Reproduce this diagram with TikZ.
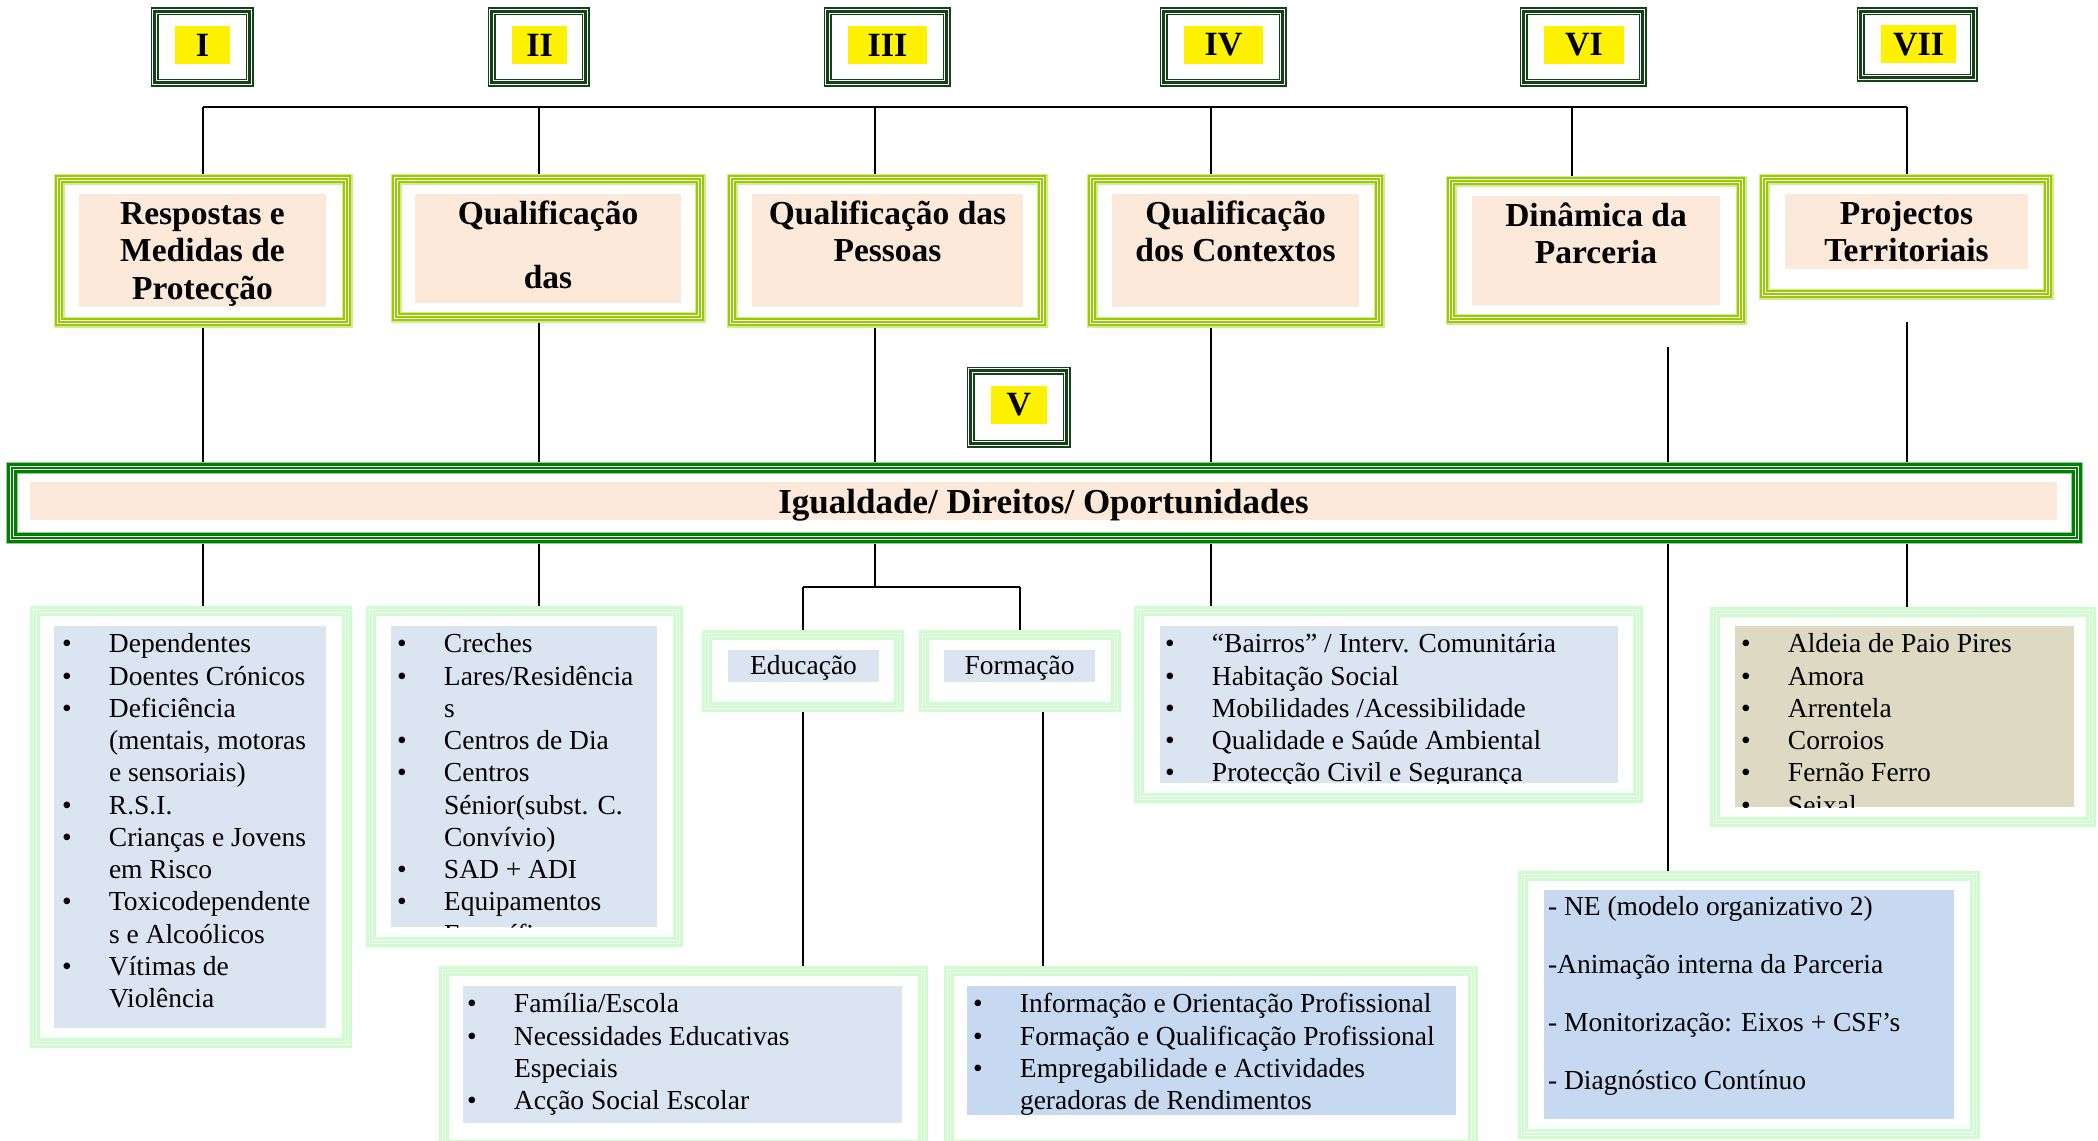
\documentclass[tikz,border=0pt]{standalone}
\usepackage{fontspec}
\setmainfont{Liberation Serif}
\usetikzlibrary{positioning}

\definecolor{romangreen}{RGB}{18,66,22}
\definecolor{catgreen}{RGB}{153,204,0}
\definecolor{catlight}{RGB}{210,236,150}
\definecolor{bargreen}{RGB}{0,128,0}
\definecolor{barlight}{RGB}{150,205,150}
\definecolor{listgreen}{RGB}{204,255,204}
\definecolor{peach}{RGB}{253,233,217}
\definecolor{paleblue}{RGB}{219,229,241}
\definecolor{midblue}{RGB}{198,217,241}
\definecolor{sand}{RGB}{221,217,195}

\newcommand{\headfont}{\fontsize{33.5}{37.5}\selectfont\bfseries}
\newcommand{\listfont}{\fontsize{27.5}{32.25}\selectfont}
\newcommand{\bul}[1]{\makebox[47pt][l]{\textbullet}#1}
\newcommand{\cont}[1]{\hspace*{47pt}#1}

\begin{document}
\begin{tikzpicture}[x=1pt, y=-1pt,
    romanbox/.style={rectangle, draw=white, line width=1pt, double=romangreen, double distance=3pt,
                     preaction={draw=romangreen, line width=8pt}, inner sep=0pt, outer sep=4pt},
    romanlabel/.style={rectangle, fill=yellow, inner sep=0pt, minimum height=38pt,
                       font=\fontsize{34}{38}\selectfont\bfseries},
    catbox/.style={rectangle, draw=white, line width=1pt, double=catgreen, double distance=2pt,
                   preaction={draw=catlight, line width=11pt}, preaction={draw=catgreen, line width=8pt},
                   inner sep=0pt, outer sep=5.5pt},
    catfill/.style={rectangle, fill=peach, inner sep=0pt},
    barbox/.style={rectangle, draw=white, line width=1.2pt, double=bargreen, double distance=2.5pt,
                   preaction={draw=barlight, line width=12pt}, preaction={draw=bargreen, line width=10pt},
                   inner sep=0pt, outer sep=6pt},
    listbox/.style={rectangle, draw=white, line width=1pt, double=listgreen, double distance=2.5pt,
                    preaction={draw=listgreen, line width=10pt}, inner sep=0pt, outer sep=5pt},
    listfill/.style={rectangle, fill=paleblue, inner sep=0pt},
    headtext/.style={align=center, inner sep=0pt, font=\headfont},
    listtext/.style={align=left, inner sep=0pt, font=\listfont},
    link/.style={draw=black, line width=1.8pt},
    bus/.style={draw=black, line width=2.2pt},
  ]
  \fill[white] (0,0) rectangle (2098,1140);
  \useasboundingbox (0,0) rectangle (2098,1140);

  % Roman numerals
  \node[romanbox, minimum width=95pt, minimum height=71pt]  (fr1) at (202,47)    {};
  \node[romanbox, minimum width=94pt, minimum height=71pt]  (fr2) at (538.5,47)  {};
  \node[romanbox, minimum width=119pt, minimum height=71pt] (fr3) at (887,47)    {};
  \node[romanbox, minimum width=119pt, minimum height=71pt] (fr4) at (1223,47)   {};
  \node[romanbox, minimum width=119pt, minimum height=71pt] (fr6) at (1583,47)   {};
  \node[romanbox, minimum width=113pt, minimum height=66pt] (fr7) at (1917,44.5) {};
  \node[romanbox, minimum width=96pt, minimum height=73pt]  (fr5) at (1018.5,407) {};

  \node[romanlabel, minimum width=55pt] (r1) at (202.5,45) {I};
  \node[romanlabel, minimum width=55pt] (r2) at (539.5,45) {II};
  \node[romanlabel, minimum width=79pt] (r3) at (887.5,45) {III};
  \node[romanlabel, minimum width=79pt] (r4) at (1223.5,45) {IV};
  \node[romanlabel, minimum width=80pt] (r6) at (1584,45) {VI};
  \node[romanlabel, minimum width=75pt] (r7) at (1918.5,44.5) {VII};
  \node[romanlabel, minimum width=56pt] (r5) at (1019,405) {V};

  % Axis boxes
  \node[catbox, minimum width=288pt, minimum height=143pt] (c1) at (203,250.5)  {};
  \node[catbox, minimum width=304pt, minimum height=138pt] (c2) at (548,248)    {};
  \node[catbox, minimum width=310pt, minimum height=143pt] (c3) at (887,250.5)  {};
  \node[catbox, minimum width=287pt, minimum height=143pt] (c4) at (1235.5,250.5) {};
  \node[catbox, minimum width=290pt, minimum height=138pt] (c6) at (1596,250)   {};
  \node[catbox, minimum width=284pt, minimum height=115pt] (c7) at (1906,236.5) {};

  \node[catfill, minimum width=247pt, minimum height=113pt] (f1) at (202.5,250.5)  {};
  \node[catfill, minimum width=266pt, minimum height=109pt] (f2) at (548,248.5)    {};
  \node[catfill, minimum width=271pt, minimum height=113pt] (f3) at (887.5,250.5)  {};
  \node[catfill, minimum width=247pt, minimum height=113pt] (f4) at (1235.5,250.5) {};
  \node[catfill, minimum width=248pt, minimum height=109pt] (f6) at (1596,250.5)   {};
  \node[catfill, minimum width=243pt, minimum height=75pt]  (f7) at (1906.5,231.5) {};

  \node[headtext, below=4pt of f1.north] (h1) {\strut Respostas e\\Medidas de\\Protecção};
  \node[headtext, below=4pt of f2.north] (h2) {\strut Qualificação\\[26.5pt]das};
  \node[headtext, below=4pt of f3.north] (h3) {\strut Qualificação das\\Pessoas};
  \node[headtext, below=4pt of f4.north] (h4) {\strut Qualificação\\dos Contextos};
  \node[headtext, below=4pt of f6.north] (h6) {\strut Dinâmica da\\Parceria};
  \node[headtext, below=4pt of f7.north] (h7) {\strut Projectos\\Territoriais};

  % Central bar
  \node[barbox, minimum width=2065pt, minimum height=70pt] (bar) at (1044.5,503) {};
  \node[catfill, minimum width=2027pt, minimum height=38pt, text height=28pt, text depth=2.4pt,
        font=\fontsize{35}{38}\selectfont\bfseries]
       (eq) at (1043.5,501) {Igualdade/ Direitos/ Oportunidades};

  % Lists
  \node[listbox, minimum width=312pt, minimum height=432pt] (l1) at (191,827)    {};
  \node[listbox, minimum width=307pt, minimum height=331pt] (l2) at (524.5,776.5) {};
  \node[listbox, minimum width=192pt, minimum height=72pt]  (edu) at (803,671)   {};
  \node[listbox, minimum width=192pt, minimum height=72pt]  (form) at (1020,671) {};
  \node[listbox, minimum width=499pt, minimum height=187pt] (l4) at (1388.5,704.5) {};
  \node[listbox, minimum width=376pt, minimum height=210pt] (l7) at (1903,717)   {};
  \node[listbox, minimum width=479pt, minimum height=174pt] (fam) at (683.5,1058) {};
  \node[listbox, minimum width=524pt, minimum height=174pt] (forml) at (1211,1058) {};
  \node[listbox, minimum width=452pt, minimum height=258pt] (ne) at (1749,1005)  {};

  \node[listfill, minimum width=272pt, minimum height=402pt] (p1) at (190,827)    {};
  \node[listfill, minimum width=266pt, minimum height=301pt] (p2) at (524,776.5)  {};
  \node[listfill, minimum width=151pt, minimum height=32pt, text height=18pt, text depth=2pt,
        font=\listfont] (pe) at (803.5,666) {Educação};
  \node[listfill, minimum width=151pt, minimum height=32pt, text height=18pt, text depth=2pt,
        font=\listfont] (pf) at (1019.5,666) {Formação};
  \node[listfill, minimum width=458pt, minimum height=157pt] (p4) at (1389,704.5) {};
  \node[listfill, fill=sand, minimum width=339pt, minimum height=181pt] (p7) at (1904.5,716.5) {};
  \node[listfill, minimum width=439pt, minimum height=137pt] (pfam) at (682.5,1054.5) {};
  \node[listfill, fill=midblue, minimum width=489pt, minimum height=129pt] (pform) at (1211.5,1050.5) {};
  \node[listfill, fill=midblue, minimum width=410pt, minimum height=229pt] (pne) at (1749,1004.5) {};

  \node[listtext, below right=4.4pt and 8pt of p1.north west] (t1) {\strut
    \bul{Dependentes}\\ \bul{Doentes Crónicos}\\ \bul{Deficiência}\\ \cont{(mentais, motoras}\\
    \cont{e sensoriais)}\\ \bul{R.S.I.}\\ \bul{Crianças e Jovens}\\ \cont{em Risco}\\
    \bul{Toxicodependente}\\ \cont{s e Alcoólicos}\\ \bul{Vítimas de}\\ \cont{Violência}};
  \begin{scope}
    \clip (p2.north west) rectangle (p2.south east);
    \node[listtext, below right=4.4pt and 6pt of p2.north west] (t2) {\strut
      \bul{Creches}\\ \bul{Lares/Residência}\\ \cont{s}\\ \bul{Centros de Dia}\\ \bul{Centros}\\
      \cont{Sénior(subst. C.}\\ \cont{Convívio)}\\ \bul{SAD + ADI}\\ \bul{Equipamentos}\\ \cont{Específicos}};
  \end{scope}
  \begin{scope}
    \clip (p4.north west) rectangle (p4.south east);
    \node[listtext, below right=4.4pt and 5pt of p4.north west] (t4) {\strut
      \bul{“Bairros” / Interv. Comunitária}\\ \bul{Habitação Social}\\ \bul{Mobilidades /Acessibilidade}\\
      \bul{Qualidade e Saúde Ambiental}\\ \bul{Protecção Civil e Segurança}};
  \end{scope}
  \begin{scope}
    \clip (p7.north west) rectangle (p7.south east);
    \node[listtext, below right=4.4pt and 6pt of p7.north west] (t7) {\strut
      \bul{Aldeia de Paio Pires}\\ \bul{Amora}\\ \bul{Arrentela}\\ \bul{Corroios}\\
      \bul{Fernão Ferro}\\ \bul{Seixal}};
  \end{scope}
  \node[listtext, below right=4.4pt and 4pt of pfam.north west] (tfam) {\strut
    \bul{Família/Escola}\\ \bul{Necessidades Educativas}\\ \cont{Especiais}\\ \bul{Acção Social Escolar}};
  \node[listtext, below right=4.4pt and 6pt of pform.north west] (tform) {\strut
    \bul{Informação e Orientação Profissional}\\ \bul{Formação e Qualificação Profissional}\\
    \bul{Empregabilidade e Actividades}\\ \cont{geradoras de Rendimentos}};
  \node[listtext, font=\fontsize{27.5}{58}\selectfont, below right=6pt and 4pt of pne.north west] (tne)
    {- NE (modelo organizativo 2)\\ -Animação interna da Parceria\\ - Monitorização: Eixos + CSF’s\\ - Diagnóstico Contínuo};

  % Lines
  \coordinate (b1) at (203,107);
  \coordinate (b2) at (539,107);
  \coordinate (b3) at (875,107);
  \coordinate (b4) at (1211,107);
  \coordinate (b6) at (1572,107);
  \coordinate (b7) at (1907,107);
  \coordinate (v6) at (1668,347);
  \coordinate (v7) at (1907,322);
  \coordinate (jE) at (803,587);
  \coordinate (j0) at (875,587);
  \coordinate (jF) at (1020,587);
  \coordinate (fx) at (1043,712);

  \draw[bus] (b1) -- (b7);
  \draw[link] (b1) -- (b1 |- c1.north);
  \draw[link] (b2) -- (b2 |- c2.north);
  \draw[link] (b3) -- (b3 |- c3.north);
  \draw[link] (b4) -- (b4 |- c4.north);
  \draw[link] (b6) -- (b6 |- c6.north);
  \draw[link] (b7) -- (b7 |- c7.north);

  \draw[link] (b1 |- c1.south) -- (b1 |- bar.north);
  \draw[link] (b2 |- c2.south) -- (b2 |- bar.north);
  \draw[link] (b3 |- c3.south) -- (b3 |- bar.north);
  \draw[link] (b4 |- c4.south) -- (b4 |- bar.north);
  \draw[link] (v6) -- (v6 |- bar.north);
  \draw[link] (v7) -- (v7 |- bar.north);

  \draw[link] (b1 |- bar.south) -- (b1 |- l1.north);
  \draw[link] (b2 |- bar.south) -- (b2 |- l2.north);
  \draw[link] (b3 |- bar.south) -- (j0);
  \draw[link] (jE) -- (jF);
  \draw[link] (jE) -- (jE |- edu.north);
  \draw[link] (jF) -- (jF |- form.north);
  \draw[link] (jE |- edu.south) -- (jE |- fam.north);
  \draw[link] (fx |- form.south) -- (fx |- forml.north);
  \draw[link] (b4 |- bar.south) -- (b4 |- l4.north);
  \draw[link] (v6 |- bar.south) -- (v6 |- ne.north);
  \draw[link] (v7 |- bar.south) -- (v7 |- l7.north);
\end{tikzpicture}
\end{document}
